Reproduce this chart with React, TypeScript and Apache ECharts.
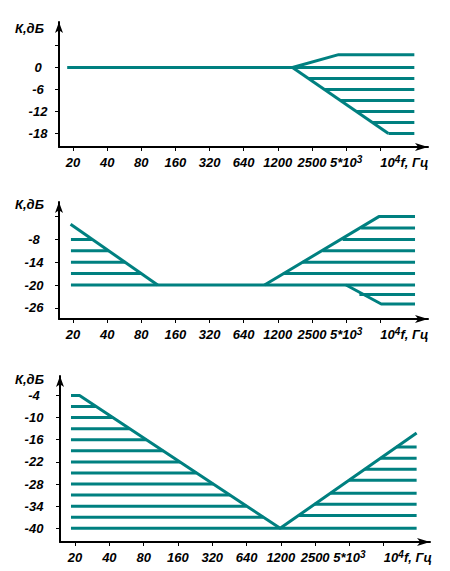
import React, { useEffect, useRef } from "react";
import * as echarts from "echarts";

// x positions: octave steps from 20 Hz (0 = 20 Hz, 1 = 40 Hz, ... 9 = 10^4 Hz)
const xTickLabels = ["20", "40", "80", "160", "320", "640", "1200", "2500", "5*10{sup|3}", "{p|10}{sup|4}", "f, Гц"];
const xTickPositions = [0, 1, 2, 3, 4, 5, 6, 7, 8, 9];
const xLabelPositions = [0, 1, 2, 3, 4, 5, 6, 7, 8, 9, 10];

// Panel 1
const yTicks1 = [6, 0, -6, -12, -18];
const yLabels1 = [0, -6, -12, -18];
const p1Upper = [[6.43, 0], [7.78, 3.5], [10, 3.5]];
const p1Lower = [[6.43, 0], [9.24, -18]];
const p1HatchLevels = [0, -3, -6, -9, -12, -15, -18];
const p1HatchStarts = [-0.17, 6.9, 7.37, 7.84, 8.3, 8.77, 9.24];
const p1HatchEnds = [10, 10, 10, 10, 10, 10, 10];

// Panel 2
const yTicks2 = [-2, -8, -14, -20, -26];
const yLabels2 = [-8, -14, -20, -26];
const p2LeftDiag = [[-0.07, -4], [2.48, -20]];
const p2Rising = [[5.61, -20], [8.96, -2], [10.02, -2]];
const p2Falling = [[8.0, -20], [9.03, -25], [10.02, -25]];
const p2LeftLevels = [-8, -11, -14, -17, -20];
const p2LeftStarts = [-0.06, -0.06, -0.06, -0.06, -0.06];
const p2LeftEnds = [0.57, 1.05, 1.53, 2.0, 10.02];
const p2RightLevels = [-17, -14, -11, -8, -5, -22.5];
const p2RightStarts = [6.15, 6.73, 7.31, 7.9, 8.44, 8.39];
const p2RightEnds = [10.02, 10.02, 10.02, 10.02, 10.02, 10.02];

// Panel 3
const yTicks3 = [-4, -10, -16, -22, -28, -34, -40];
const p3Outline = [[-0.12, -4], [0.13, -4], [5.98, -40], [9.96, -14.2]];
const p3LeftLevels = [-7, -10, -13, -16, -19, -22, -25, -28, -31, -34, -37, -40];
const p3LeftStarts = [-0.12, -0.12, -0.12, -0.12, -0.12, -0.12, -0.12, -0.12, -0.12, -0.12, -0.12, -0.12];
const p3LeftEnds = [0.62, 1.11, 1.59, 2.08, 2.57, 3.06, 3.54, 4.03, 4.52, 5.0, 5.49, 9.96];
const p3RightLevels = [-36.5, -33.5, -30.5, -27, -24, -21, -18];
const p3RightStarts = [6.52, 6.98, 7.45, 7.99, 8.45, 8.91, 9.37];
const p3RightEnds = [9.96, 9.96, 9.96, 9.96, 9.96, 9.96, 9.96];

const TEAL = "#008080";
const FONT = "'Liberation Sans', Arial, sans-serif";

// layout helpers (pixel anchors -> axis ranges)
function yRange(top: number, bottom: number, refPx: number, refVal: number, pxPerUnit: number) {
  return { max: refVal + (refPx - top) / pxPerUnit, min: refVal - (bottom - refPx) / pxPerUnit };
}

const panels = [
  { left: 59, top: 22, width: 369, height: 125, xMin: -0.41, xMax: 10.4, y: yRange(22, 147, 67.5, 0, 3.67), ticks: yTicks1, labels: yLabels1, labelMargin: 21, nameY: 28 },
  { left: 59, top: 202, width: 369, height: 117, xMin: -0.41, xMax: 10.4, y: yRange(202, 319, 285, -20, 3.8), ticks: yTicks2, labels: yLabels2, labelMargin: 25, nameY: 204 },
  { left: 60, top: 376, width: 370, height: 166, xMin: -0.44, xMax: 10.35, y: yRange(376, 542, 528.3, -40, 3.69), ticks: yTicks3, labels: yTicks3, labelMargin: 26, nameY: 379 },
];

function lineSeries(data: number[][], idx: number) {
  return {
    type: "line",
    xAxisIndex: idx,
    yAxisIndex: idx,
    data,
    symbol: "none",
    silent: true,
    lineStyle: { color: TEAL, width: 3, cap: "butt" },
  };
}

function hatchSeries(levels: number[], starts: number[], ends: number[], idx: number) {
  return levels.map((lv, i) => lineSeries([[starts[i], lv], [ends[i], lv]], idx));
}

export default function App() {
  const ref = useRef<HTMLDivElement>(null);
  useEffect(() => {
    if (!ref.current) return;
    const chart = echarts.init(ref.current, null, { renderer: "svg" });
    const labelStyle = { fontFamily: FONT, fontStyle: "italic", fontWeight: "bold", fontSize: 13, color: "#000" };
    const option: any = {
      animation: false,
      backgroundColor: "#fff",
      grid: panels.map((p) => ({ left: p.left, top: p.top, width: p.width, height: p.height })),
      xAxis: panels.map((p, i) => ({
        type: "value",
        gridIndex: i,
        min: p.xMin,
        max: p.xMax,
        splitLine: { show: false },
        axisLine: { onZero: false, lineStyle: { color: "#000", width: 2 }, symbol: ["none", "arrow"], symbolSize: [6, 13] },
        axisTick: { show: true, customValues: xTickPositions, length: 4, lineStyle: { color: "#000", width: 1 } },
        axisLabel: {
          customValues: xLabelPositions,
          margin: 7,
          ...labelStyle,
          lineHeight: 16,
          formatter: (v: number) => xTickLabels[Math.round(v)] ?? "",
          rich: {
            sup: { ...labelStyle, fontSize: 10, lineHeight: 10, verticalAlign: "top" },
            p: { ...labelStyle, padding: [0, 0, 0, 20] },
          },
        },
      })),
      yAxis: panels.map((p, i) => ({
        type: "value",
        gridIndex: i,
        min: p.y.min,
        max: p.y.max,
        splitLine: { show: false },
        axisLine: { onZero: false, lineStyle: { color: "#000", width: 2 }, symbol: ["none", "arrow"], symbolSize: [6, 11] },
        axisTick: { show: true, customValues: p.ticks, length: 4, lineStyle: { color: "#000", width: 1 } },
        axisLabel: {
          customValues: p.labels,
          margin: p.labelMargin,
          align: "center",
          ...labelStyle,
          lineHeight: 13,
          formatter: (v: number) => String(v),
        },
      })),
      graphic: panels.map((p) => ({
        type: "text",
        x: 15,
        y: p.nameY,
        style: { text: "К,дБ", fontFamily: FONT, fontStyle: "italic", fontWeight: "bold", fontSize: 13, lineHeight: 13, fill: "#000", verticalAlign: "middle", align: "left" },
      })),
      series: [
        lineSeries(p1Upper, 0),
        lineSeries(p1Lower, 0),
        ...hatchSeries(p1HatchLevels, p1HatchStarts, p1HatchEnds, 0),
        lineSeries(p2LeftDiag, 1),
        lineSeries(p2Rising, 1),
        lineSeries(p2Falling, 1),
        ...hatchSeries(p2LeftLevels, p2LeftStarts, p2LeftEnds, 1),
        ...hatchSeries(p2RightLevels, p2RightStarts, p2RightEnds, 1),
        lineSeries(p3Outline, 2),
        ...hatchSeries(p3LeftLevels, p3LeftStarts, p3LeftEnds, 2),
        ...hatchSeries(p3RightLevels, p3RightStarts, p3RightEnds, 2),
      ],
    };
    chart.setOption(option);
    return () => chart.dispose();
  }, []);
  return <div ref={ref} style={{ position: "fixed", left: 0, top: 0, width: 450, height: 571 }} />;
}
